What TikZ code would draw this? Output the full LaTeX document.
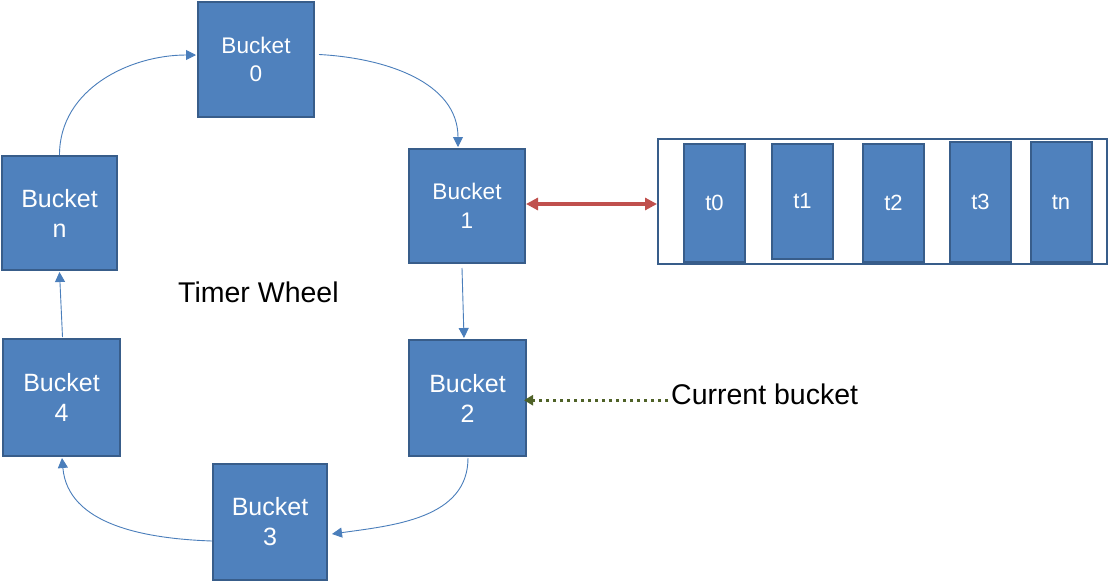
\documentclass[tikz,border=0pt]{standalone}
\usepackage{fontspec}
\setmainfont{Liberation Sans}
\usetikzlibrary{arrows.meta}
\definecolor{bfill}{HTML}{4F81BD}
\definecolor{bedge}{HTML}{385D8A}
\definecolor{blink}{HTML}{4A7EBB}
\definecolor{rlink}{HTML}{C0504D}
\definecolor{glink}{HTML}{4F6228}
\begin{document}
\begin{tikzpicture}[x=1pt,y=-1pt,
  bucket/.style={draw=bedge, fill=bfill, line width=2pt, text=white, align=center, inner sep=0pt,
    font=\fontsize{25}{30}\selectfont},
  smallb/.style={bucket, font=\fontsize{22.6}{28.5}\selectfont},
  slot/.style={draw=bedge, fill=bfill, line width=2pt, text=white, inner sep=0pt,
    minimum width=61pt, font=\fontsize{22}{26}\selectfont},
  wheel/.style={draw=blink, line width=0.9pt, -{Triangle[length=10pt,width=10pt]}},
  ptr/.style={draw=rlink, line width=4pt, {Triangle[length=12pt,width=12pt]}-{Triangle[length=12pt,width=12pt]}},
  cur/.style={draw=glink, line width=3pt, dash pattern=on 3pt off 4pt, -{Triangle[length=9pt,width=10pt]}},
  lbl/.style={anchor=base west, inner sep=0pt, font=\fontsize{28.5}{34}\selectfont}
]
\useasboundingbox[fill=white] (0,0) rectangle (1109,582);

\node[smallb, minimum width=116pt, minimum height=115pt] (b0) at (256,59.5) {Bucket\\0};
\node[smallb, minimum width=116pt, minimum height=114pt] (b1) at (467,206) {Bucket\\1};
\node[bucket, minimum width=117pt, minimum height=116pt] (b2) at (467.5,398) {Bucket\\2};
\node[bucket, minimum width=114pt, minimum height=116pt] (b3) at (270,522) {Bucket\\3};
\node[bucket, minimum width=117pt, minimum height=117pt] (b4) at (61.5,397.5) {Bucket\\4};
\node[bucket, minimum width=115pt, minimum height=114pt] (bn) at (59.5,213) {Bucket\\n};

\node[draw=bedge, line width=2pt, minimum width=449pt, minimum height=125pt, inner sep=0pt] (cont) at (882.5,201) {};
\node[slot, minimum height=118pt] (t0) at (714.5,203) {t0};
\node[slot, minimum height=115pt] (t1) at (802.5,201.5) {t1};
\node[slot, minimum height=118pt] (t2) at (893.5,203) {t2};
\node[slot, minimum height=120pt] (t3) at (980.5,202) {t3};
\node[slot, minimum height=120pt] (tn) at (1061,202) {tn};

\node[lbl] (tw) at (178,302) {Timer Wheel};
\node[lbl] (cb) at (671,404) {Current bucket};

\draw[wheel] (bn.north) to[out=90,in=180] ([xshift=-1pt,yshift=4.5pt]b0.west);
\draw[wheel] ([xshift=4pt,yshift=5pt]b0.east) to[out=-3,in=90] ([xshift=-9pt,yshift=1pt]b1.north);
\draw[wheel] ([xshift=-5pt,yshift=-4pt]b1.south) -- ([xshift=-3.5pt,yshift=1pt]b2.north);
\draw[wheel] ([xshift=0.5pt,yshift=-1pt]b2.south) to[out=-90,in=8] ([xshift=4pt,yshift=-12pt]b3.east);
\draw[wheel] ([yshift=-19pt]b3.west) to[out=178,in=-85] ([xshift=0.5pt,yshift=-1pt]b4.south);
\draw[wheel] ([xshift=1pt,yshift=1pt]b4.north) -- ([yshift=-1pt]bn.south);

\draw[ptr] ([yshift=2pt]b1.east) -- ([yshift=2pt]b1.east -| cont.west);
\draw[cur] ([xshift=-3pt,yshift=-6.4pt]cb.west) -- ([xshift=-3pt,yshift=-6.4pt]cb.west -| b2.east);
\end{tikzpicture}
\end{document}
